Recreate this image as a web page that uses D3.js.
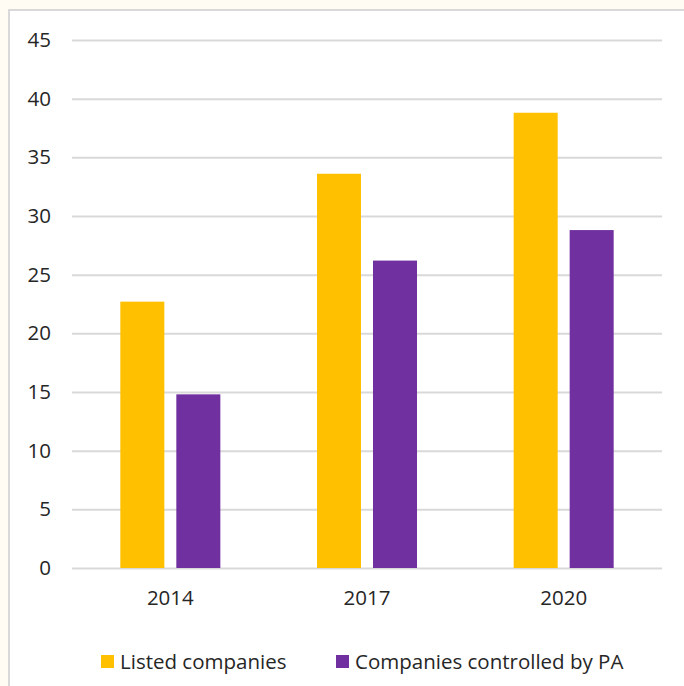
<!DOCTYPE html>
<html>
<head>
<meta charset="utf-8">
<script src="https://cdn.jsdelivr.net/npm/d3@7/dist/d3.min.js"></script>
<style>
  html, body { margin: 0; padding: 0; background: #fffcf4; }
  svg { display: block; }
  text { font-family: "Open Sans", Lato, sans-serif; fill: #262626; }
</style>
</head>
<body>
<svg id="chart" width="684" height="686"></svg>
<script>
// Years on the category axis
const years = ["2014", "2017", "2020"];
// Series names (legend order)
const seriesNames = ["Listed companies", "Companies controlled by PA"];
// Values per series, one per year
const listedCompanies = [22.7, 33.6, 38.8];
const controlledByPA = [14.8, 26.2, 28.8];
// Y axis ticks
const yTicks = [0, 5, 10, 15, 20, 25, 30, 35, 40, 45];
const colors = ["#FFC000", "#7030A0"];

const seriesValues = [listedCompanies, controlledByPA];
const rows = years.map((yr, i) => ({
  year: yr,
  values: seriesNames.map((s, j) => ({ series: s, value: seriesValues[j][i] }))
}));

const FONT = "'Open Sans', Lato, sans-serif";
const FONT_SIZE = 20.5;
const svg = d3.select("#chart");

// Chart frame: white panel with a light grey edge on the left and top
svg.append("rect").attr("x", 9).attr("y", 10).attr("width", 700).attr("height", 700)
  .attr("fill", "#ffffff");
svg.append("line").attr("x1", 9).attr("x2", 9).attr("y1", 9).attr("y2", 686)
  .attr("stroke", "#d9d9d9").attr("stroke-width", 2);
svg.append("line").attr("x1", 8).attr("x2", 684).attr("y1", 10).attr("y2", 10)
  .attr("stroke", "#d9d9d9").attr("stroke-width", 2);

const plot = { left: 72, right: 662, top: 40, bottom: 568 };

const y = d3.scaleLinear().domain([0, 45]).range([plot.bottom, plot.top]);
const x0 = d3.scaleBand().domain(years).range([plot.left, plot.right]).paddingInner(0).paddingOuter(0);
const x1 = d3.scaleBand().domain(seriesNames).range([0, x0.bandwidth()])
  .paddingInner(0.214).paddingOuter(0.863);
const color = d3.scaleOrdinal().domain(seriesNames).range(colors);

// Horizontal gridlines and y tick labels
const yAxis = d3.axisLeft(y).tickValues(yTicks).tickSize(-(plot.right - plot.left)).tickPadding(21)
  .tickFormat(d3.format("d"));
const gy = svg.append("g").attr("transform", `translate(${plot.left},0)`).call(yAxis);
gy.select(".domain").remove();
gy.selectAll(".tick line").attr("stroke", "#d9d9d9").attr("stroke-width", 2);
gy.selectAll(".tick text").attr("font-size", FONT_SIZE).attr("fill", "#262626")
  .style("font-family", FONT);

// Bars
const groups = svg.append("g").selectAll("g").data(rows).join("g")
  .attr("transform", d => `translate(${x0(d.year)},0)`);
groups.selectAll("rect").data(d => d.values).join("rect")
  .attr("x", d => x1(d.series))
  .attr("width", x1.bandwidth())
  .attr("y", d => y(d.value))
  .attr("height", d => y(0) - y(d.value))
  .attr("fill", d => color(d.series));

// Category axis labels
const xAxis = d3.axisBottom(x0).tickSize(0).tickPadding(22);
const gx = svg.append("g").attr("transform", `translate(0,${plot.bottom})`).call(xAxis);
gx.select(".domain").remove();
gx.selectAll(".tick text").attr("font-size", FONT_SIZE).attr("fill", "#262626")
  .style("font-family", FONT);

// Legend
const legendX = [101, 336];
const legend = svg.append("g").selectAll("g").data(seriesNames).join("g")
  .attr("transform", (d, i) => `translate(${legendX[i]},655)`);
legend.append("rect").attr("width", 13).attr("height", 13).attr("fill", d => color(d));
legend.append("text").attr("x", 19).attr("y", 7).attr("dy", "0.35em")
  .attr("font-size", FONT_SIZE).text(d => d);
</script>
</body>
</html>
